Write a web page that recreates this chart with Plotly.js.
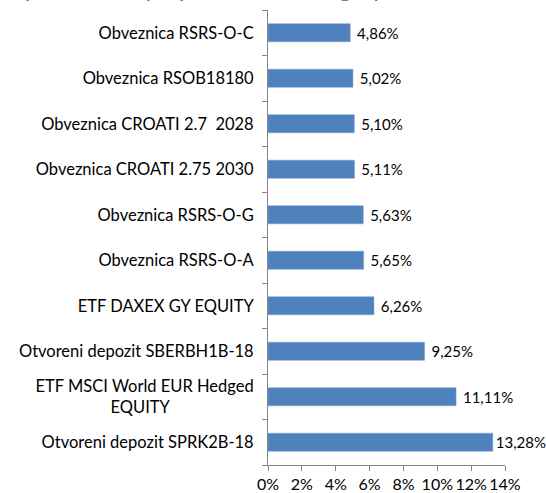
<!DOCTYPE html>
<html>
<head>
<meta charset="utf-8">
<script src="https://cdn.plot.ly/plotly-3.0.1.min.js"></script>
<style>html,body{margin:0;padding:0;background:#fff;}#chart{width:546px;height:493px;}</style>
</head>
<body>
<div id="chart"></div>
<script>
// Categories listed top to bottom
const categories = [
  "Obveznica RSRS-O-C",
  "Obveznica RSOB18180",
  "Obveznica CROATI 2.7  2028",
  "Obveznica CROATI 2.75 2030",
  "Obveznica RSRS-O-G",
  "Obveznica RSRS-O-A",
  "ETF DAXEX GY EQUITY",
  "Otvoreni depozit SBERBH1B-18",
  "ETF MSCI World EUR Hedged<br>EQUITY",
  "Otvoreni depozit SPRK2B-18"
];
const values = [4.86, 5.02, 5.10, 5.11, 5.63, 5.65, 6.26, 9.25, 11.11, 13.28];
const xTickVals = [0, 2, 4, 6, 8, 10, 12, 14];
const xTickText = ["0%", "2%", "4%", "6%", "8%", "10%", "12%", "14%"];
const titleText = "Top 10 stavki po prinosu unutar grupe (u % NAV)";

const FONT = "Lato, 'Open Sans', sans-serif";
const LABEL_SIZE = 16.5;
const VAL_SIZE = 15;
const W = 546, H = 493;
const M = {l: 268, r: 41, t: 10, b: 28};

// measure text to center the second line of multi-line category labels
const ctx = document.createElement("canvas").getContext("2d");
function textWidth(s, size) { ctx.font = size + "px Lato"; return ctx.measureText(s).width; }
const nbspW = textWidth("\u00a0", LABEL_SIZE) || 3.2;
const tickText = categories.map(c => {
  const lines = c.split("<br>");
  if (lines.length < 2) return c;
  const w0 = textWidth(lines[0], LABEL_SIZE);
  return lines.map((ln, i) => {
    if (i === 0) return ln;
    const pad = Math.max(0, Math.round((w0 - textWidth(ln, LABEL_SIZE)) / 2 / nbspW) + 1);
    return ln + "\u00a0".repeat(pad);
  }).join("<br>");
});

const plotW = W - M.l - M.r;
const xMax = 14;
const labels = values.map(v => {
  const s = v.toFixed(2).replace(".", ",") + "%";
  const end = M.l + v / xMax * plotW + 3 + 5 + textWidth(s, VAL_SIZE);
  return (end < W - 8 ? "\u00a0" : "") + s;
});

const trace = {
  type: "bar",
  orientation: "h",
  y: categories,
  x: values,
  text: labels,
  textposition: "outside",
  cliponaxis: false,
  constraintext: "none",
  textfont: {family: FONT, size: VAL_SIZE, color: "#000"},
  marker: {color: "#4F81BD", line: {color: "#7fa3d0", width: 0.5}},
  hoverinfo: "none"
};

const layout = {
  width: W, height: H,
  margin: {l: M.l, r: M.r, t: M.t, b: M.b, pad: 0},
  paper_bgcolor: "#fff", plot_bgcolor: "#fff",
  showlegend: false,
  bargap: 0.6,
  font: {family: FONT, size: 14, color: "#000"},
  annotations: [{
    text: titleText,
    font: {family: FONT, size: 24, color: "#4F81BD"},
    xref: "paper", yref: "paper",
    x: (514 - M.l) / plotW, xanchor: "right",
    y: 1 + (M.t - 4) / (H - M.t - M.b), yanchor: "bottom",
    showarrow: false
  }],
  xaxis: {
    range: [0, xMax],
    tickvals: xTickVals, ticktext: xTickText,
    tickangle: 0,
    showgrid: false, zeroline: false,
    showline: true, linecolor: "#868686", linewidth: 1,
    ticks: "outside", ticklen: 5, tickcolor: "#868686",
    tickfont: {size: 16}
  },
  yaxis: {
    type: "category",
    autorange: "reversed",
    tickvals: categories, ticktext: tickText,
    showgrid: false, zeroline: false,
    showline: true, linecolor: "#868686", linewidth: 1,
    ticks: "outside", ticklen: 5, tickcolor: "#868686",
    tickson: "boundaries",
    ticklabelstandoff: 10,
    tickfont: {size: LABEL_SIZE}
  }
};

Plotly.newPlot("chart", [trace], layout, {staticPlot: true, displayModeBar: false});
</script>
</body>
</html>
